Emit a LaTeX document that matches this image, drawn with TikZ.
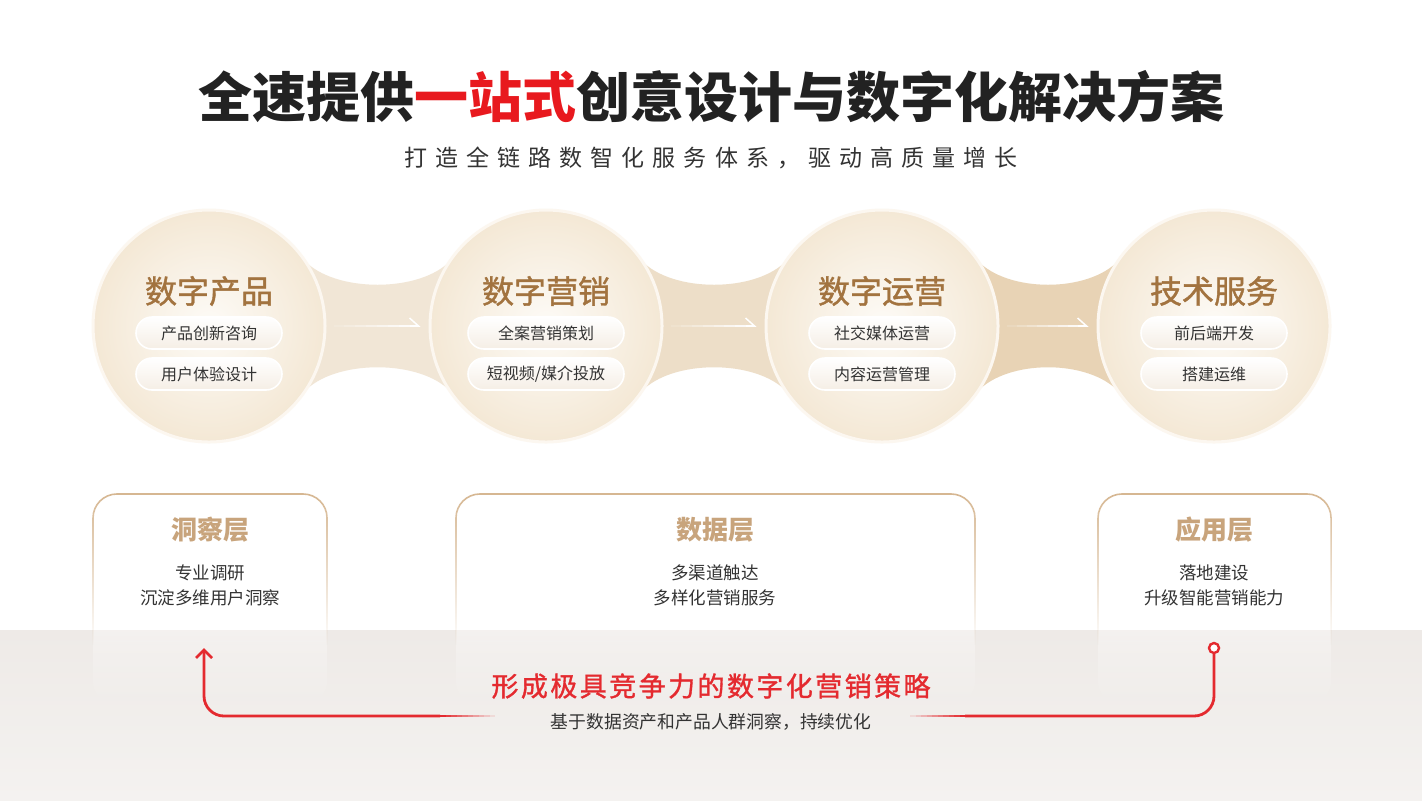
\documentclass[tikz,border=0pt]{standalone}
\usepackage{fontspec}
\setmainfont{Noto Sans CJK SC}
\usetikzlibrary{arrows.meta}
\usetikzlibrary{calc}
\usetikzlibrary{positioning}
\usetikzlibrary{fadings}

\definecolor{inkdark}{HTML}{222222}
\definecolor{inkgrey}{HTML}{333333}
\definecolor{accentred}{HTML}{E8191E}
\definecolor{linkred}{HTML}{E42A2F}
\definecolor{bronze}{HTML}{A2733F}
\definecolor{layertan}{HTML}{C8A47C}
\definecolor{rimtan}{HTML}{D6B792}
\definecolor{bandtop}{HTML}{EEEAE7}
\definecolor{bandbottom}{HTML}{F4F2F0}
\definecolor{pearlin}{HTML}{FDFBF7}
\definecolor{pearlout}{HTML}{F4E8D5}
\definecolor{pearlrim}{HTML}{FCF7F0}
\definecolor{neckA}{HTML}{F1E6D6}
\definecolor{neckB}{HTML}{EDDEC8}
\definecolor{neckC}{HTML}{E8D3B5}
\definecolor{pillbottom}{HTML}{F5EEE5}

\tikzfading[name=fade down, top color=transparent!0, bottom color=transparent!100]

\tikzset{
    headline/.style={
        text=inkdark,
        font=\bfseries\fontsize{27}{32}\selectfont,
    },
    subhead/.style={
        text=inkgrey,
        font=\fontsize{11.5}{14}\selectfont\addfontfeatures{LetterSpace=35},
    },
    pearl/.style={
        circle,
        minimum size=116pt,
        inner sep=0,
        inner color=pearlin,
        outer color=pearlout,
        draw=pearlrim,
        line width=1.5pt,
    },
    pearl title/.style={
        text=bronze,
        font=\fontsize{16}{18}\selectfont\addfontfeatures{FakeBold=1.2},
    },
    pill/.style={
        rounded corners=8pt,
        minimum width=73pt,
        minimum height=16pt,
        inner sep=0,
        top color=white,
        bottom color=pillbottom,
        draw=white,
        line width=0.8pt,
        text=inkgrey,
        font=\fontsize{8}{10}\selectfont,
    },
    neck arrow/.style={
        white,
        line width=0.75pt,
    },
    layer rim/.style={
        draw=rimtan,
        line width=0.8pt,
    },
    layer title/.style={
        text=layertan,
        font=\bfseries\fontsize{13}{15}\selectfont,
    },
    layer text/.style={
        text=inkgrey,
        align=center,
        font=\fontsize{8.75}{12.5}\selectfont,
    },
    strategy/.style={
        text=linkred,
        font=\fontsize{13.5}{16}\selectfont\addfontfeatures{LetterSpace=9, FakeBold=1.2},
    },
    strategy note/.style={
        text=inkgrey,
        font=\fontsize{8.9}{11}\selectfont,
    },
    red link/.style={
        linkred,
        line width=1.4pt,
    },
    ring/.style={
        circle,
        draw=linkred,
        fill=white,
        line width=1.2pt,
        minimum size=5pt,
        inner sep=0,
    },
}

\begin{document}
\begin{tikzpicture}[x=0.5pt, y=-0.5pt]

    \useasboundingbox[fill=white] (0,0) rectangle (1422,800);
    \shade[top color=bandtop, bottom color=bandbottom] (0,630) rectangle (1422,800);

    % heading
    \node[headline] (head) at (711,97) {全速提供{\color{accentred}一站式}创意设计与数字化解决方案};
    \node[subhead] (sub) at (711,158) {打造全链路数智化服务体系，驱动高质量增长};

    % pearl chain
    \coordinate (pA) at (209,326);
    \coordinate (pB) at (546,326);
    \coordinate (pC) at (882,326);
    \coordinate (pD) at (1214,326);

    \newcommand\neck[3]{
        \fill[#3] ($(#1)+(95,-66)$) .. controls ($(#1)+(125,-33)$) and ($(#2)+(-125,-33)$) .. ($(#2)+(-95,-66)$)
            -- ($(#2)+(-95,66)$) .. controls ($(#2)+(-125,33)$) and ($(#1)+(125,33)$) .. ($(#1)+(95,66)$) -- cycle;
    }
    \neck{pA}{pB}{neckA}
    \neck{pB}{pC}{neckB}
    \neck{pC}{pD}{neckC}

    \node[pearl] (product) at (pA) {};
    \node[pearl title] (productT) at ($(pA)+(0,-35)$) {数字产品};
    \node[pill] (product1) at ($(pA)+(0,7)$) {产品创新咨询};
    \node[pill] (product2) at ($(pA)+(0,48)$) {用户体验设计};

    \node[pearl] (marketing) at (pB) {};
    \node[pearl title] (marketingT) at ($(pB)+(0,-35)$) {数字营销};
    \node[pill, minimum width=78pt] (marketing1) at ($(pB)+(0,7)$) {全案营销策划};
    \node[pill, minimum width=78pt] (marketing2) at ($(pB)+(0,48)$) {短视频/媒介投放};

    \node[pearl] (operation) at (pC) {};
    \node[pearl title] (operationT) at ($(pC)+(0,-35)$) {数字运营};
    \node[pill] (operation1) at ($(pC)+(0,7)$) {社交媒体运营};
    \node[pill] (operation2) at ($(pC)+(0,48)$) {内容运营管理};

    \node[pearl] (techserv) at (pD) {};
    \node[pearl title] (techservT) at ($(pD)+(0,-35)$) {技术服务};
    \node[pill] (techserv1) at ($(pD)+(0,7)$) {前后端开发};
    \node[pill] (techserv2) at ($(pD)+(0,48)$) {搭建运维};

    \foreach \a/\b in {product/marketing, marketing/operation, operation/techserv}
    {
        \coordinate (s) at ($(\a.east)+(7,0)$);
        \coordinate (e) at ($(\b.west)+(-8,0)$);
        \foreach \k [evaluate=\k as \op using (\k+1)/8] in {0,...,6}
            \draw[neck arrow, opacity=\op] ($(s)!\k/8!(e)$) -- ($(s)!\k/8+0.125!(e)$);
        \draw[neck arrow, -{Straight Barb[harpoon, length=4.5pt, width=8pt]}] ($(s)!0.875!(e)$) -- (e);
    }

    % layer boxes
    \newcommand\layerbox[2]{
        \fill[white, rounded corners=12pt, path fading=fade down] (#1,494) rectangle (#2,705);
        \draw[layer rim, rounded corners=12pt, path fading=fade down] (#1,645) -- (#1,494) -- (#2,494) -- (#2,645);
    }
    \layerbox{93}{327}
    \layerbox{456}{975}
    \layerbox{1098}{1331}

    \node[layer title] (insight) at (210,530) {洞察层};
    \node[layer text] (insightL) at (210,585) {专业调研\\沉淀多维用户洞察};
    \node[layer title] (data) at (715,530) {数据层};
    \node[layer text] (dataL) at (715,585) {多渠道触达\\多样化营销服务};
    \node[layer title] (apply) at (1214,530) {应用层};
    \node[layer text] (applyL) at (1214,585) {落地建设\\升级智能营销能力};

    % strategy loop
    \node[strategy] (strategy) at (711,686) {形成极具竞争力的数字化营销策略};
    \node[strategy note] (note) at (711,722) {基于数据资产和产品人群洞察，持续优化};

    \node[ring] (appDot) at (1214,648) {};
    \coordinate (insightTip) at (204,648);
    \coordinate (tailR) at (965,716);
    \coordinate (endR) at (910,716);
    \coordinate (tailL) at (440,716);
    \coordinate (endL) at (495,716);

    \draw[red link, rounded corners=10pt] (appDot) |- (tailR);
    \draw[red link, rounded corners=10pt, -{Straight Barb[length=4pt, width=8pt]}] (tailL) -| (insightTip);
    \foreach \k [evaluate=\k as \op using 1-\k/10] in {0,...,9}
    {
        \draw[red link, opacity=\op] ($(tailL)!\k/10!(endL)$) -- ($(tailL)!\k/10+0.1!(endL)$);
        \draw[red link, opacity=\op] ($(tailR)!\k/10!(endR)$) -- ($(tailR)!\k/10+0.1!(endR)$);
    }

\end{tikzpicture}
\end{document}
